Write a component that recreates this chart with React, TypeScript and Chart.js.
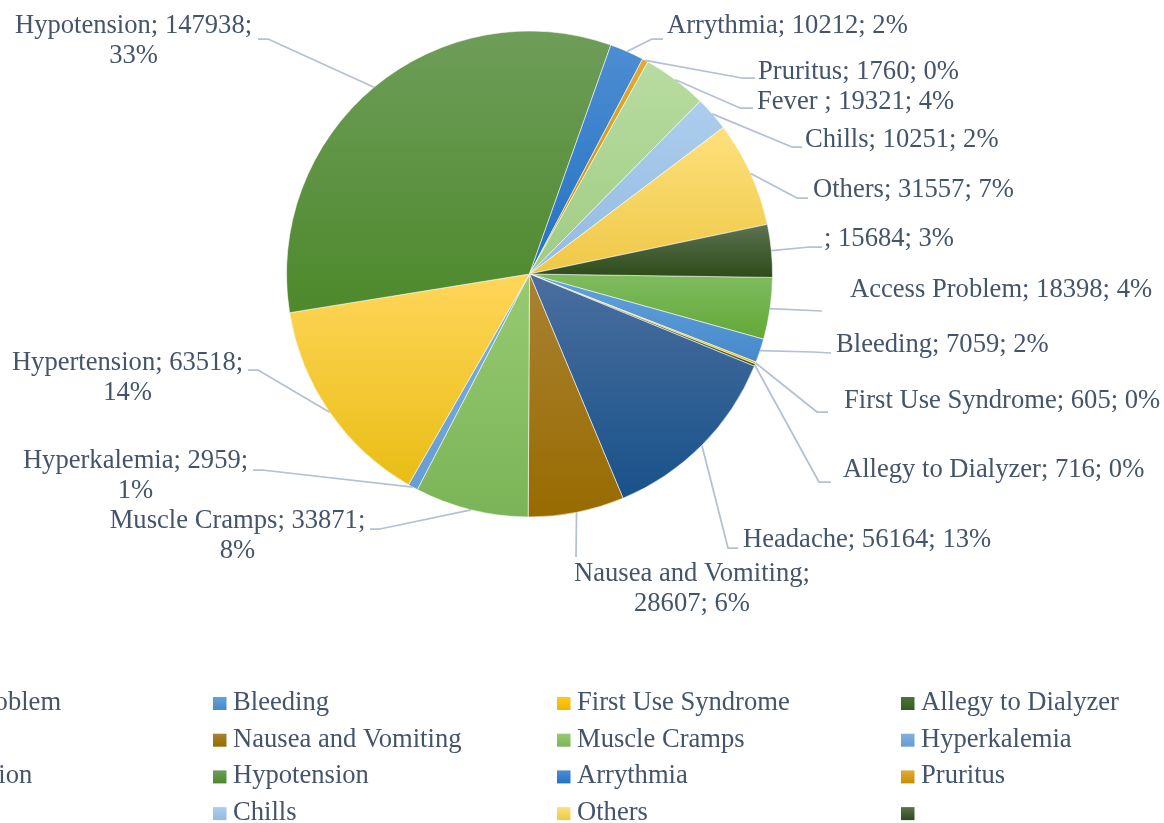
import React, { useEffect, useRef } from "react";
import { Chart, registerables } from "chart.js";

Chart.register(...registerables);

// ---------- data ----------
const categories = [
  "Access Problem",
  "Bleeding",
  "First Use Syndrome",
  "Allegy to Dialyzer",
  "Headache",
  "Nausea and Vomiting",
  "Muscle Cramps",
  "Hyperkalemia",
  "Hypertension",
  "Hypotension",
  "Arrythmia",
  "Pruritus",
  "Fever ",
  "Chills",
  "Others",
  "",
];
const values = [
  18398, 7059, 605, 716, 56164, 28607, 33871, 2959, 63518, 147938, 10212, 1760,
  19321, 10251, 31557, 15684,
];

// ---------- styles ----------
const colorTop = [
  "#80BC5F", "#62A3DC", "#FFC81A", "#4A7536", "#4B6E9E", "#A98233",
  "#97CA72", "#80B1E0", "#FFD65A", "#6E9D59", "#4D8DD2", "#E0AA38",
  "#B8DCA0", "#ADCDED", "#FFE07C", "#5D7252",
];
const colorBottom = [
  "#62A838", "#4789CA", "#F0B400", "#365B22", "#18528A", "#986B00",
  "#7BB458", "#669DD3", "#E9BD14", "#4D892B", "#2272C2", "#C78E00",
  "#A0CC84", "#92BBE1", "#EEC847", "#2C4C18",
];
const TEXT_COLOR = "#44546A";
const LEADER_COLOR = "#B4C0D3";
const FONT = '26.6px "Liberation Serif", "Times New Roman", serif';
const LINE_HEIGHT = 30;
const ROTATION = 90.8;

// label layout, offsets relative to the pie centre
type LabelLayout = {
  tx: number; ty: number; align: "left" | "center"; wrap: number;
  elbow: [number, number] | null; end: [number, number];
};
const labelLayout: LabelLayout[] = [
  { tx: 320.5, ty: 23, align: "left", wrap: 9999, elbow: null, end: [292.5, 37] },
  { tx: 306.5, ty: 78, align: "left", wrap: 9999, elbow: [283.5, 78], end: [301.5, 79] },
  { tx: 314.5, ty: 134, align: "left", wrap: 9999, elbow: [287.5, 138], end: [298.5, 138] },
  { tx: 313.5, ty: 203, align: "left", wrap: 9999, elbow: [289.5, 208], end: [301.5, 208] },
  { tx: 213.5, ty: 273, align: "left", wrap: 9999, elbow: [198.5, 274], end: [208.5, 274] },
  { tx: 162.5, ty: 307, align: "center", wrap: 250, elbow: null, end: [46.5, 283] },
  { tx: -292, ty: 254, align: "center", wrap: 270, elbow: [-149.5, 255], end: [-159.5, 255] },
  { tx: -394, ty: 194, align: "center", wrap: 240, elbow: [-267.5, 196], end: [-276.5, 196] },
  { tx: -402, ty: 96, align: "center", wrap: 240, elbow: [-271.5, 96], end: [-281.5, 96] },
  { tx: -396, ty: -241, align: "center", wrap: 260, elbow: [-261.5, -235], end: [-271.5, -235] },
  { tx: 137.5, ty: -241, align: "left", wrap: 9999, elbow: [122.5, -235], end: [133.5, -235] },
  { tx: 228.5, ty: -195, align: "left", wrap: 9999, elbow: [212.5, -196], end: [225.5, -196] },
  { tx: 227.5, ty: -165, align: "left", wrap: 9999, elbow: [210.5, -166], end: [223.5, -166] },
  { tx: 275.5, ty: -127, align: "left", wrap: 9999, elbow: [262.5, -127], end: [272.5, -127] },
  { tx: 283.5, ty: -77, align: "left", wrap: 9999, elbow: [267.5, -76], end: [278.5, -76] },
  { tx: 294.5, ty: -28, align: "left", wrap: 9999, elbow: [280.5, -27], end: [292.5, -27] },
];

// legend layout
const LEGEND_COLS = 4;
const LEGEND_X0 = -131;
const LEGEND_COL_W = 344;
const LEGEND_BASE0 = 710;
const LEGEND_ROW_H = 36.7;

const total = values.reduce((a, b) => a + b, 0);

function wrapText(ctx: CanvasRenderingContext2D, text: string, maxW: number): string[] {
  const words = text.split(" ");
  const lines: string[] = [];
  let cur = "";
  for (const w of words) {
    const test = cur === "" ? w : cur + " " + w;
    if (cur !== "" && ctx.measureText(test).width > maxW) {
      lines.push(cur);
      cur = w;
    } else {
      cur = test;
    }
  }
  if (cur !== "") lines.push(cur);
  return lines;
}

function sliceGradient(chart: any, i: number) {
  const area = chart.chartArea;
  if (!area || i === undefined) return colorBottom[i ?? 0];
  const cx = (area.left + area.right) / 2;
  const cy = (area.top + area.bottom) / 2;
  const r = Math.min(area.width, area.height) / 2;
  let before = 0;
  for (let k = 0; k < i; k++) before += values[k];
  const a0 = (ROTATION * Math.PI) / 180 - Math.PI / 2 + (before / total) * Math.PI * 2;
  const a1 = a0 + (values[i] / total) * Math.PI * 2;
  let minY = cy, maxY = cy;
  for (const a of [a0, a1]) {
    const y = cy + r * Math.sin(a);
    minY = Math.min(minY, y);
    maxY = Math.max(maxY, y);
  }
  const within = (ang: number) => {
    for (let k = -3; k <= 3; k++) {
      const t = ang + k * Math.PI * 2;
      if (t >= a0 && t <= a1) return true;
    }
    return false;
  };
  if (within(Math.PI / 2)) maxY = cy + r;
  if (within(-Math.PI / 2)) minY = cy - r;
  if (maxY - minY < 1) maxY = minY + 1;
  const g = chart.ctx.createLinearGradient(0, minY, 0, maxY);
  g.addColorStop(0, colorTop[i]);
  g.addColorStop(1, colorBottom[i]);
  return g;
}

const labelPlugin = {
  id: "excelLabels",
  afterDatasetsDraw(chart: any) {
    const ctx: CanvasRenderingContext2D = chart.ctx;
    const meta = chart.getDatasetMeta(0);
    ctx.save();
    ctx.font = FONT;
    // leader lines
    ctx.strokeStyle = LEADER_COLOR;
    ctx.lineWidth = 1.75;
    ctx.lineJoin = "round";
    meta.data.forEach((el: any, i: number) => {
      const L = labelLayout[i];
      const mid = (el.startAngle + el.endAngle) / 2;
      const sx = el.x + el.outerRadius * Math.cos(mid);
      const sy = el.y + el.outerRadius * Math.sin(mid);
      ctx.beginPath();
      ctx.moveTo(sx, sy);
      if (L.elbow) ctx.lineTo(el.x + L.elbow[0], el.y + L.elbow[1]);
      ctx.lineTo(el.x + L.end[0], el.y + L.end[1]);
      ctx.stroke();
    });
    // label texts
    ctx.fillStyle = TEXT_COLOR;
    ctx.textBaseline = "alphabetic";
    meta.data.forEach((el: any, i: number) => {
      const L = labelLayout[i];
      const pct = Math.round((values[i] / total) * 100);
      const text = `${categories[i]}; ${values[i]}; ${pct}%`;
      const lines = wrapText(ctx, text, L.wrap);
      ctx.textAlign = L.align;
      lines.forEach((ln, j) => {
        ctx.fillText(ln, el.x + L.tx, el.y + L.ty + j * LINE_HEIGHT);
      });
    });
    // legend
    ctx.textAlign = "left";
    categories.forEach((name, i) => {
      const col = i % LEGEND_COLS;
      const row = Math.floor(i / LEGEND_COLS);
      const bx = LEGEND_X0 + col * LEGEND_COL_W;
      const base = LEGEND_BASE0 + row * LEGEND_ROW_H;
      const by = base - 13;
      const g = ctx.createLinearGradient(0, by, 0, by + 13);
      g.addColorStop(0, colorTop[i]);
      g.addColorStop(1, colorBottom[i]);
      ctx.fillStyle = g;
      ctx.fillRect(bx, by, 13.5, 13);
      ctx.fillStyle = TEXT_COLOR;
      ctx.fillText(name, bx + 20, base);
    });
    ctx.restore();
  },
};

export default function App() {
  const ref = useRef<HTMLCanvasElement | null>(null);
  useEffect(() => {
    if (!ref.current) return;
    const chart = new Chart(ref.current, {
      type: "pie",
      data: {
        labels: categories,
        datasets: [
          {
            data: values,
            backgroundColor: (c: any) => sliceGradient(c.chart, c.dataIndex),
            borderColor: "rgba(255,255,255,0.55)",
            borderWidth: 1,
            hoverOffset: 0,
            offset: 0,
          } as any,
        ],
      },
      options: {
        responsive: false,
        animation: false,
        events: [],
        rotation: ROTATION,
        layout: { padding: { left: 286, right: 391, top: 30.5, bottom: 305.5 } },
        plugins: {
          legend: { display: false },
          tooltip: { enabled: false },
          title: { display: false },
        },
      },
      plugins: [labelPlugin],
    });
    return () => chart.destroy();
  }, []);
  return (
    <div style={{ position: "absolute", left: 0, top: 0, width: 1164, height: 823, background: "#fff" }}>
      <canvas ref={ref} width={1164} height={823} style={{ display: "block" }} />
    </div>
  );
}
